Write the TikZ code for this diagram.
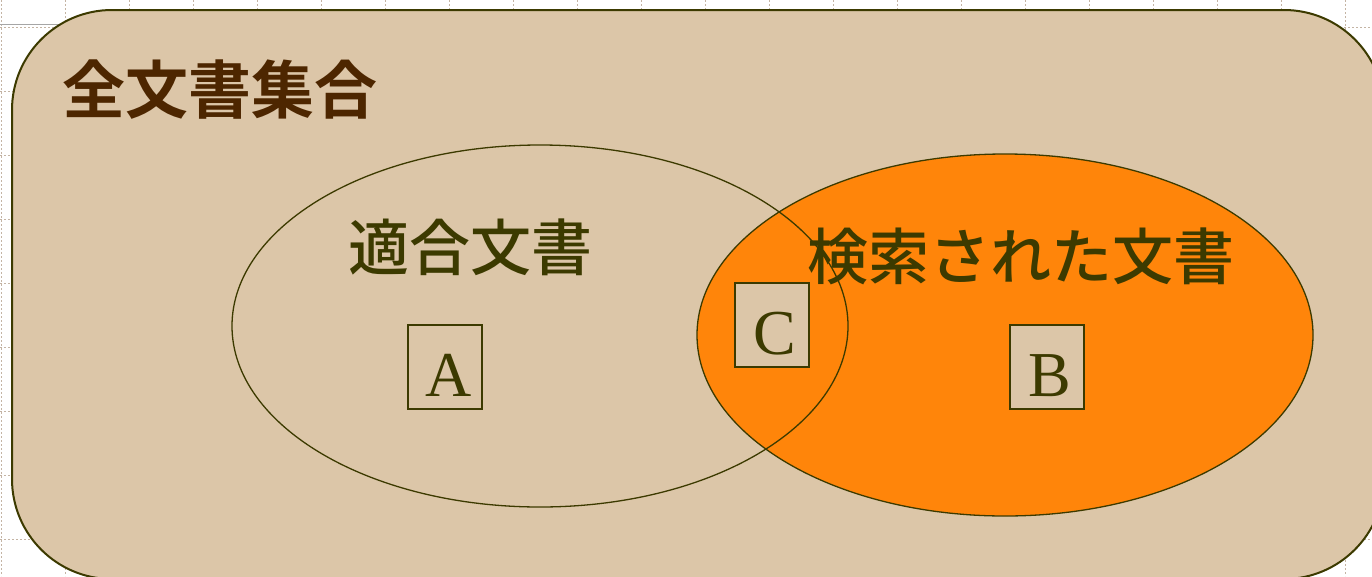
\documentclass[tikz,border=0pt]{standalone}
\usepackage{fontspec}
\setmainfont{Liberation Serif}
\newfontfamily\cjk{Noto Sans CJK JP Medium}
\newfontfamily\cjkbold{Noto Sans CJK JP Bold}
\usetikzlibrary{shapes.geometric}
\definecolor{tanbg}{HTML}{DCC6A8}
\definecolor{orangefill}{HTML}{FF850A}
\definecolor{olive}{HTML}{3C3A00}
\definecolor{titlebrown}{HTML}{4D2600}
\definecolor{gridgray}{HTML}{C4B4A4}
\tikzset{
  setellipse/.style={ellipse, inner sep=0pt, minimum width=616pt, minimum height=362pt, draw=olive, line width=1.3pt},
  letterbox/.style={draw=olive, fill=tanbg, line width=1.5pt, inner sep=0pt, minimum width=74pt,
    text height=71pt, text depth=13pt, text=olive, font=\fontsize{64}{64}\selectfont},
  setlabel/.style={text=olive, inner sep=0pt, font=\cjk\fontsize{61}{61}\selectfont},
}
\begin{document}
\begin{tikzpicture}[x=1pt,y=-1pt]
\clip (0,0) rectangle (1372,576);
% background grid
\foreach \gx in {1,65,...,1400} \draw[gridgray, dashed, line width=0.8pt, dash pattern=on 2pt off 2pt] (\gx,0) -- (\gx,576);
\foreach \gy in {27,91,...,600} \draw[gridgray, dashed, line width=0.8pt, dash pattern=on 2pt off 2pt] (0,\gy) -- (1372,\gy);
\draw[gray!70, line width=1pt] (0,24) -- (65,24);
% universe
\draw[fill=tanbg, draw=olive, line width=2pt, rounded corners=100pt] (12,10) rectangle (1384,579);
\node[inner sep=0pt, text=titlebrown, font=\cjkbold\fontsize{63}{63}\selectfont] (all) at (220,90) {全文書集合};
% sets
\node[setellipse, fill=orangefill] (retrieved) at (1005,335) {};
\node[setellipse] (relevant) at (540,326) {};
\node[setlabel] (rellabel) at (470,247) {適合文書};
\node[setlabel] (retlabel) at (1021,256) {検索された文書};
% boxes
\node[letterbox] (A) at (445,367) {\hspace*{8pt}A};
\node[letterbox] (C) at (772,325) {\hspace*{6pt}C};
\node[letterbox] (B) at (1047,367) {\hspace*{6pt}B};
\end{tikzpicture}
\end{document}
